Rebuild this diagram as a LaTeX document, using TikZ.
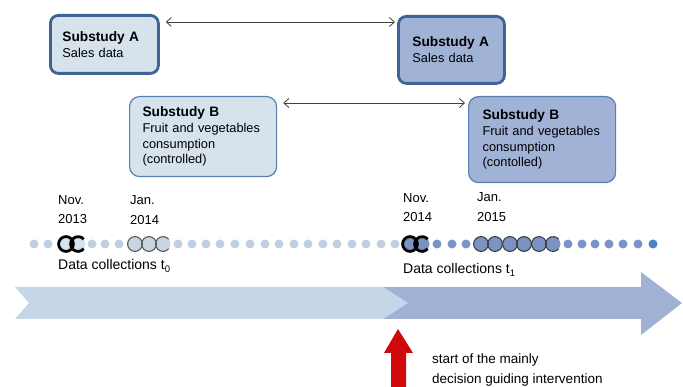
\documentclass[tikz,border=0pt]{standalone}
\usepackage{fontspec}
\setmainfont{Liberation Sans}
\usetikzlibrary{arrows.meta,calc}

\definecolor{earlyfill}{RGB}{214,226,236}
\definecolor{latefill}{RGB}{160,178,213}
\definecolor{thickborder}{RGB}{62,100,150}
\definecolor{thinborder}{RGB}{90,126,174}
\definecolor{earlydot}{RGB}{192,208,226}
\definecolor{latedot}{RGB}{124,147,199}
\definecolor{lastdot}{RGB}{75,131,196}
\definecolor{ringearly}{RGB}{201,213,226}
\definecolor{ringlate}{RGB}{122,146,196}
\definecolor{earlyband}{RGB}{198,214,233}
\definecolor{lateband}{RGB}{160,177,212}
\definecolor{interv}{RGB}{208,10,10}

\newcommand{\head}[1]{{\fontsize{13.7}{15.8}\selectfont\bfseries #1}}
\newcommand{\sub}[1]{\raisebox{-2.5pt}{\fontsize{9.5}{10}\selectfont #1}}
\newcommand{\sdot}[2]{\fill[#2] (#1,244) circle (4.5);}
\newcommand{\ringfill}[2]{\fill[#2] (#1,244) circle (7.4);}
\newcommand{\ringO}[3]{\draw[#2, line width=#3] (#1,244) circle (7.4);}
\newcommand{\ringC}[3]{\draw[#2, line width=#3] (#1,244) ++(40:7.4) arc (40:320:7.4);}
\newcommand{\when}[6]{%
  \node[datetext] (#1m) at (#2,#3) {#5};
  \node[datetext] (#1y) at (#2,#4) {#6};
}

\begin{document}
\begin{tikzpicture}[x=1pt, y=-1pt,
  substudy/.style={rounded corners=8pt, align=left, anchor=north west,
    font=\fontsize{12.8}{15.8}\selectfont, inner ysep=0},
  thickbox/.style={substudy, draw=thickborder, line width=2.8pt},
  thinbox/.style={substudy, draw=thinborder, line width=1.2pt, rounded corners=10pt},
  link/.style={<->, >={Straight Barb[length=5pt,width=9pt]}, line width=0.8pt, draw=black!75},
  datetext/.style={anchor=base west, inner sep=0, font=\fontsize{13}{15}\selectfont},
  notetext/.style={anchor=base west, inner sep=0, font=\fontsize{13.5}{16}\selectfont}]
    \useasboundingbox (0,0) rectangle (683,387);
    % Substudies
    \node[thickbox, fill=earlyfill, minimum width=108, minimum height=58,
      inner xsep=12, text width=84] (subA0) at (49,14) {\head{Substudy A}\\Sales data};
    \node[thickbox, fill=latefill, minimum width=106, minimum height=67,
      inner xsep=14, text width=78] (subA1) at (397,15) {\head{Substudy A}\\Sales data};
    \node[thinbox, fill=earlyfill, minimum width=147, minimum height=80,
      inner xsep=13, text width=121] (subB0) at (129,96)
      {\head{Substudy B}\\Fruit and vegetables\\consumption\\(controlled)};
    \node[thinbox, fill=latefill, minimum width=147, minimum height=86,
      inner xsep=14, text width=119] (subB1) at (468,96)
      {\head{Substudy B}\\Fruit and vegetables\\consumption\\(contolled)};
    \draw[link] ($(subA0.north east)+(6,8)$) -- ($(subA1.north west)+(-2,7)$);
    \draw[link] ($(subB0.north east)+(6,7)$) -- ($(subB1.north west)+(-3,7)$);
    % Dates
    \when{nov13}{58}{205}{224}{Nov.}{2013}
    \when{jan14}{130}{205}{225}{Jan.}{2014}
    \when{nov14}{403}{203}{222}{Nov.}{2014}
    \when{jan15}{477}{202}{222}{Jan.}{2015}
    % Time line dots
    \foreach \x in {34,48,92,105,119,178,192,206,220,235,250,265,279,294,308,323,337,352,366,381,395} {
      \sdot{\x}{earlydot}
    }
    \foreach \x in {437,452,466,568,582,595,609,623,638} {
      \sdot{\x}{latedot}
    }
    \sdot{653}{lastdot}
    % Data collections
    \foreach \x in {66,78} {\ringfill{\x}{earlyfill}}
    \foreach \x in {135,149,163} {\ringfill{\x}{ringearly}}
    \foreach \x in {410,422,481,495,510,524,539,553} {\ringfill{\x}{ringlate}}
    \ringO{66}{black}{2.8pt}
    \ringC{78}{black}{2.8pt}
    \foreach \x in {135,149} {\ringO{\x}{black!65}{1.1pt}}
    \ringC{163}{black!65}{1.1pt}
    \ringO{410}{black}{2.8pt}
    \ringC{422}{black}{2.8pt}
    \foreach \x in {481,495,510,524,539} {\ringO{\x}{black!75}{1.1pt}}
    \ringC{553}{black!75}{1.1pt}
    \node[notetext, font=\fontsize{14}{16}\selectfont] (dc0) at (58,270) {Data collections t\sub{0}};
    \node[notetext, font=\fontsize{14}{16}\selectfont] (dc1) at (403,274) {Data collections t\sub{1}};
    % Time arrow
    \fill[lateband] (383,287) -- (641,287) -- (641,272) -- (682,303) -- (641,335)
      -- (641,319) -- (383,319) -- cycle;
    \fill[earlyband] (15,287) -- (383,287) -- (408,303) -- (383,319) -- (15,319)
      -- (29,303) -- cycle;
    % Intervention
    \fill[interv] (398,329) -- (413,353) -- (406,353) -- (406,387) -- (391,387)
      -- (391,353) -- (384,353) -- cycle;
    \node[notetext] (start) at (432,363) {start of the mainly};
    \node[notetext] (guide) at (432,384) {decision guiding intervention};
\end{tikzpicture}
\end{document}
